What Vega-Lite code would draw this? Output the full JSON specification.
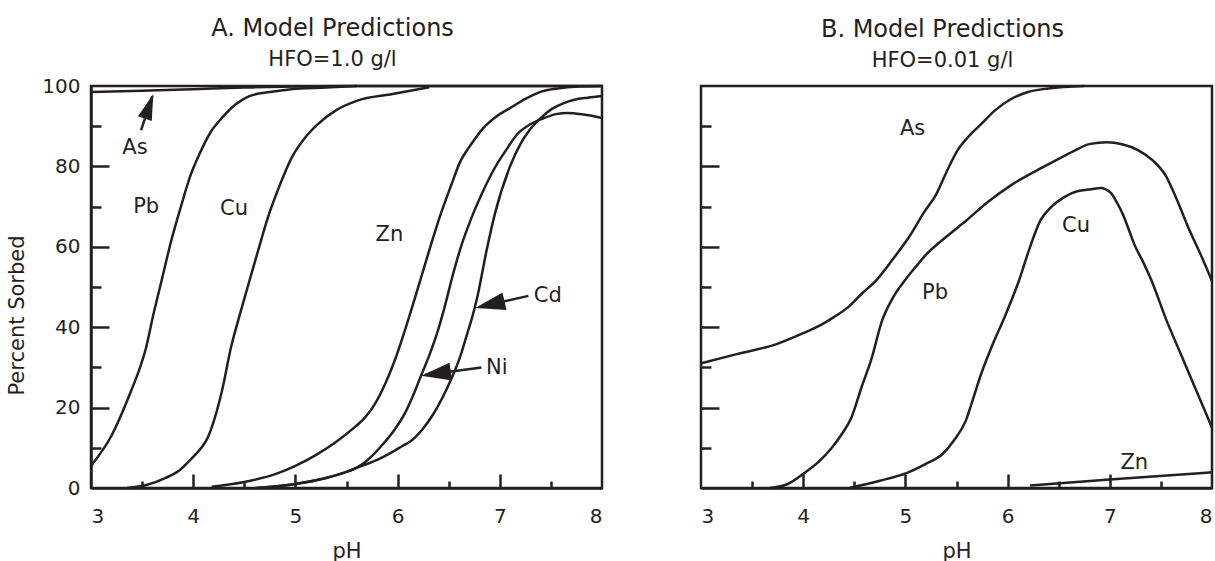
{
  "$schema": "https://vega.github.io/schema/vega-lite/v6.json",
  "padding": {"left": 5, "top": 15, "right": 0, "bottom": 0},
  "bounds": "flush",
  "spacing": 99,
  "config": {
    "font": "DejaVu Sans",
    "view": {"stroke": "#231f20", "strokeWidth": 2.5},
    "axis": {"grid": false, "labelFont": "DejaVu Sans", "labelFontSize": 20, "labelColor": "#231f20", "titleFont": "DejaVu Sans", "titleFontSize": 21, "titleFontWeight": "normal", "titleColor": "#231f20", "domainColor": "#231f20", "domainWidth": 2.5, "tickColor": "#231f20", "tickWidth": 2.5},
    "title": {"font": "DejaVu Sans", "fontSize": 24, "fontWeight": "normal", "color": "#231f20", "subtitleFont": "DejaVu Sans", "subtitleFontSize": 21, "subtitleColor": "#231f20", "subtitlePadding": 8, "anchor": "middle", "frame": "group"}
  },
  "datasets": {
    "curvesA": [
      {"metal": "As", "pH": 3.0, "pct": 98.5}, {"metal": "As", "pH": 3.5, "pct": 98.8}, {"metal": "As", "pH": 4.0, "pct": 99.2}, {"metal": "As", "pH": 4.5, "pct": 99.6}, {"metal": "As", "pH": 5.0, "pct": 99.9}, {"metal": "As", "pH": 5.5, "pct": 100}, {"metal": "As", "pH": 8.0, "pct": 100},
      {"metal": "Pb", "pH": 3.0, "pct": 5.5}, {"metal": "Pb", "pH": 3.2, "pct": 13}, {"metal": "Pb", "pH": 3.39, "pct": 24}, {"metal": "Pb", "pH": 3.48, "pct": 30}, {"metal": "Pb", "pH": 3.54, "pct": 35}, {"metal": "Pb", "pH": 3.6, "pct": 42}, {"metal": "Pb", "pH": 3.69, "pct": 51.5}, {"metal": "Pb", "pH": 3.78, "pct": 61}, {"metal": "Pb", "pH": 3.88, "pct": 70}, {"metal": "Pb", "pH": 3.97, "pct": 77.5}, {"metal": "Pb", "pH": 4.06, "pct": 83}, {"metal": "Pb", "pH": 4.17, "pct": 88.5}, {"metal": "Pb", "pH": 4.29, "pct": 92.3}, {"metal": "Pb", "pH": 4.42, "pct": 95.5}, {"metal": "Pb", "pH": 4.55, "pct": 97.5}, {"metal": "Pb", "pH": 4.75, "pct": 98.5}, {"metal": "Pb", "pH": 4.96, "pct": 99.2}, {"metal": "Pb", "pH": 5.3, "pct": 99.6}, {"metal": "Pb", "pH": 5.6, "pct": 100},
      {"metal": "Cu", "pH": 3.35, "pct": 0}, {"metal": "Cu", "pH": 3.55, "pct": 0.8}, {"metal": "Cu", "pH": 3.73, "pct": 2.5}, {"metal": "Cu", "pH": 3.87, "pct": 4.5}, {"metal": "Cu", "pH": 3.99, "pct": 7.5}, {"metal": "Cu", "pH": 4.08, "pct": 10}, {"metal": "Cu", "pH": 4.14, "pct": 12.4}, {"metal": "Cu", "pH": 4.2, "pct": 16.5}, {"metal": "Cu", "pH": 4.28, "pct": 24}, {"metal": "Cu", "pH": 4.37, "pct": 35}, {"metal": "Cu", "pH": 4.46, "pct": 43.5}, {"metal": "Cu", "pH": 4.55, "pct": 51.5}, {"metal": "Cu", "pH": 4.64, "pct": 59.5}, {"metal": "Cu", "pH": 4.74, "pct": 68}, {"metal": "Cu", "pH": 4.85, "pct": 75.5}, {"metal": "Cu", "pH": 4.96, "pct": 82}, {"metal": "Cu", "pH": 5.09, "pct": 87}, {"metal": "Cu", "pH": 5.22, "pct": 90.5}, {"metal": "Cu", "pH": 5.4, "pct": 94}, {"metal": "Cu", "pH": 5.6, "pct": 96.3}, {"metal": "Cu", "pH": 5.95, "pct": 98}, {"metal": "Cu", "pH": 6.31, "pct": 99.7},
      {"metal": "Zn", "pH": 4.18, "pct": 0.3}, {"metal": "Zn", "pH": 4.5, "pct": 1.5}, {"metal": "Zn", "pH": 4.81, "pct": 3.5}, {"metal": "Zn", "pH": 5.0, "pct": 5.5}, {"metal": "Zn", "pH": 5.22, "pct": 8.5}, {"metal": "Zn", "pH": 5.4, "pct": 11.5}, {"metal": "Zn", "pH": 5.56, "pct": 14.7}, {"metal": "Zn", "pH": 5.68, "pct": 17.5}, {"metal": "Zn", "pH": 5.78, "pct": 21}, {"metal": "Zn", "pH": 5.88, "pct": 26}, {"metal": "Zn", "pH": 5.97, "pct": 31.6}, {"metal": "Zn", "pH": 6.1, "pct": 41.5}, {"metal": "Zn", "pH": 6.22, "pct": 51.5}, {"metal": "Zn", "pH": 6.32, "pct": 60}, {"metal": "Zn", "pH": 6.42, "pct": 68}, {"metal": "Zn", "pH": 6.52, "pct": 75}, {"metal": "Zn", "pH": 6.61, "pct": 81}, {"metal": "Zn", "pH": 6.72, "pct": 85.5}, {"metal": "Zn", "pH": 6.84, "pct": 89.6}, {"metal": "Zn", "pH": 6.97, "pct": 92.5}, {"metal": "Zn", "pH": 7.1, "pct": 94.5}, {"metal": "Zn", "pH": 7.25, "pct": 96.8}, {"metal": "Zn", "pH": 7.43, "pct": 98.8}, {"metal": "Zn", "pH": 7.6, "pct": 99.5}, {"metal": "Zn", "pH": 7.73, "pct": 99.8}, {"metal": "Zn", "pH": 8.0, "pct": 100},
      {"metal": "Ni", "pH": 4.62, "pct": 0}, {"metal": "Ni", "pH": 5.0, "pct": 1}, {"metal": "Ni", "pH": 5.3, "pct": 2.5}, {"metal": "Ni", "pH": 5.5, "pct": 4}, {"metal": "Ni", "pH": 5.63, "pct": 5.5}, {"metal": "Ni", "pH": 5.75, "pct": 8}, {"metal": "Ni", "pH": 5.86, "pct": 11}, {"metal": "Ni", "pH": 5.97, "pct": 14.5}, {"metal": "Ni", "pH": 6.08, "pct": 19}, {"metal": "Ni", "pH": 6.16, "pct": 23.5}, {"metal": "Ni", "pH": 6.23, "pct": 28}, {"metal": "Ni", "pH": 6.31, "pct": 33}, {"metal": "Ni", "pH": 6.38, "pct": 38}, {"metal": "Ni", "pH": 6.46, "pct": 45}, {"metal": "Ni", "pH": 6.53, "pct": 52}, {"metal": "Ni", "pH": 6.62, "pct": 60}, {"metal": "Ni", "pH": 6.72, "pct": 67}, {"metal": "Ni", "pH": 6.83, "pct": 73.5}, {"metal": "Ni", "pH": 6.95, "pct": 79.6}, {"metal": "Ni", "pH": 7.06, "pct": 84}, {"metal": "Ni", "pH": 7.17, "pct": 88}, {"metal": "Ni", "pH": 7.3, "pct": 90.5}, {"metal": "Ni", "pH": 7.43, "pct": 92}, {"metal": "Ni", "pH": 7.55, "pct": 93}, {"metal": "Ni", "pH": 7.66, "pct": 93.3}, {"metal": "Ni", "pH": 7.8, "pct": 93}, {"metal": "Ni", "pH": 7.9, "pct": 92.6}, {"metal": "Ni", "pH": 8.0, "pct": 92},
      {"metal": "Cd", "pH": 4.62, "pct": 0}, {"metal": "Cd", "pH": 5.0, "pct": 1}, {"metal": "Cd", "pH": 5.3, "pct": 2.5}, {"metal": "Cd", "pH": 5.5, "pct": 4}, {"metal": "Cd", "pH": 5.65, "pct": 5.5}, {"metal": "Cd", "pH": 5.8, "pct": 7}, {"metal": "Cd", "pH": 5.95, "pct": 9}, {"metal": "Cd", "pH": 6.05, "pct": 10.5}, {"metal": "Cd", "pH": 6.12, "pct": 11.5}, {"metal": "Cd", "pH": 6.24, "pct": 14.5}, {"metal": "Cd", "pH": 6.35, "pct": 18.4}, {"metal": "Cd", "pH": 6.44, "pct": 22.5}, {"metal": "Cd", "pH": 6.53, "pct": 27.4}, {"metal": "Cd", "pH": 6.61, "pct": 32.5}, {"metal": "Cd", "pH": 6.68, "pct": 38.3}, {"metal": "Cd", "pH": 6.73, "pct": 42.5}, {"metal": "Cd", "pH": 6.78, "pct": 47.5}, {"metal": "Cd", "pH": 6.87, "pct": 59}, {"metal": "Cd", "pH": 6.95, "pct": 68}, {"metal": "Cd", "pH": 7.1, "pct": 80}, {"metal": "Cd", "pH": 7.2, "pct": 85.5}, {"metal": "Cd", "pH": 7.29, "pct": 89}, {"metal": "Cd", "pH": 7.4, "pct": 92}, {"metal": "Cd", "pH": 7.51, "pct": 94.3}, {"metal": "Cd", "pH": 7.62, "pct": 95.7}, {"metal": "Cd", "pH": 7.73, "pct": 96.6}, {"metal": "Cd", "pH": 7.86, "pct": 97.1}, {"metal": "Cd", "pH": 8.0, "pct": 97.5}
    ],
    "curvesB": [
      {"metal": "As", "pH": 3.0, "pct": 31}, {"metal": "As", "pH": 3.35, "pct": 33.3}, {"metal": "As", "pH": 3.74, "pct": 35.8}, {"metal": "As", "pH": 4.0, "pct": 38.5}, {"metal": "As", "pH": 4.17, "pct": 40.5}, {"metal": "As", "pH": 4.3, "pct": 42.5}, {"metal": "As", "pH": 4.44, "pct": 45}, {"metal": "As", "pH": 4.58, "pct": 48.5}, {"metal": "As", "pH": 4.71, "pct": 51.5}, {"metal": "As", "pH": 4.88, "pct": 57}, {"metal": "As", "pH": 5.05, "pct": 63}, {"metal": "As", "pH": 5.18, "pct": 68.5}, {"metal": "As", "pH": 5.3, "pct": 73}, {"metal": "As", "pH": 5.4, "pct": 78.5}, {"metal": "As", "pH": 5.51, "pct": 84}, {"metal": "As", "pH": 5.62, "pct": 87.5}, {"metal": "As", "pH": 5.74, "pct": 90.5}, {"metal": "As", "pH": 5.88, "pct": 94}, {"metal": "As", "pH": 6.03, "pct": 96.7}, {"metal": "As", "pH": 6.2, "pct": 98.5}, {"metal": "As", "pH": 6.4, "pct": 99.4}, {"metal": "As", "pH": 6.75, "pct": 100},
      {"metal": "Pb", "pH": 3.67, "pct": 0}, {"metal": "Pb", "pH": 3.85, "pct": 1}, {"metal": "Pb", "pH": 4.01, "pct": 3.7}, {"metal": "Pb", "pH": 4.15, "pct": 6.5}, {"metal": "Pb", "pH": 4.28, "pct": 10}, {"metal": "Pb", "pH": 4.38, "pct": 13.5}, {"metal": "Pb", "pH": 4.47, "pct": 17.4}, {"metal": "Pb", "pH": 4.57, "pct": 25}, {"metal": "Pb", "pH": 4.67, "pct": 32.3}, {"metal": "Pb", "pH": 4.77, "pct": 41.5}, {"metal": "Pb", "pH": 4.87, "pct": 47}, {"metal": "Pb", "pH": 4.99, "pct": 51.5}, {"metal": "Pb", "pH": 5.1, "pct": 55}, {"metal": "Pb", "pH": 5.2, "pct": 58}, {"metal": "Pb", "pH": 5.4, "pct": 62.5}, {"metal": "Pb", "pH": 5.59, "pct": 66.4}, {"metal": "Pb", "pH": 5.8, "pct": 71}, {"metal": "Pb", "pH": 6.05, "pct": 75.6}, {"metal": "Pb", "pH": 6.3, "pct": 79.2}, {"metal": "Pb", "pH": 6.51, "pct": 82}, {"metal": "Pb", "pH": 6.66, "pct": 84}, {"metal": "Pb", "pH": 6.81, "pct": 85.6}, {"metal": "Pb", "pH": 6.97, "pct": 86}, {"metal": "Pb", "pH": 7.12, "pct": 85.5}, {"metal": "Pb", "pH": 7.28, "pct": 84}, {"metal": "Pb", "pH": 7.42, "pct": 81.5}, {"metal": "Pb", "pH": 7.55, "pct": 77.6}, {"metal": "Pb", "pH": 7.66, "pct": 71.5}, {"metal": "Pb", "pH": 7.77, "pct": 64.7}, {"metal": "Pb", "pH": 7.89, "pct": 58}, {"metal": "Pb", "pH": 8.0, "pct": 51.5},
      {"metal": "Cu", "pH": 4.45, "pct": 0}, {"metal": "Cu", "pH": 4.75, "pct": 1.8}, {"metal": "Cu", "pH": 5.01, "pct": 3.7}, {"metal": "Cu", "pH": 5.2, "pct": 6}, {"metal": "Cu", "pH": 5.36, "pct": 8.4}, {"metal": "Cu", "pH": 5.48, "pct": 12}, {"metal": "Cu", "pH": 5.59, "pct": 16.7}, {"metal": "Cu", "pH": 5.66, "pct": 22}, {"metal": "Cu", "pH": 5.74, "pct": 28.3}, {"metal": "Cu", "pH": 5.85, "pct": 35.5}, {"metal": "Cu", "pH": 5.97, "pct": 42.5}, {"metal": "Cu", "pH": 6.11, "pct": 51.5}, {"metal": "Cu", "pH": 6.22, "pct": 60}, {"metal": "Cu", "pH": 6.32, "pct": 66.5}, {"metal": "Cu", "pH": 6.43, "pct": 70}, {"metal": "Cu", "pH": 6.55, "pct": 72.3}, {"metal": "Cu", "pH": 6.68, "pct": 73.8}, {"metal": "Cu", "pH": 6.82, "pct": 74.3}, {"metal": "Cu", "pH": 6.91, "pct": 74.6}, {"metal": "Cu", "pH": 6.96, "pct": 74.3}, {"metal": "Cu", "pH": 7.01, "pct": 73.4}, {"metal": "Cu", "pH": 7.07, "pct": 71}, {"metal": "Cu", "pH": 7.13, "pct": 68}, {"metal": "Cu", "pH": 7.19, "pct": 64}, {"metal": "Cu", "pH": 7.24, "pct": 60.6}, {"metal": "Cu", "pH": 7.33, "pct": 56}, {"metal": "Cu", "pH": 7.41, "pct": 51.5}, {"metal": "Cu", "pH": 7.55, "pct": 42}, {"metal": "Cu", "pH": 7.7, "pct": 33}, {"metal": "Cu", "pH": 7.85, "pct": 24}, {"metal": "Cu", "pH": 8.0, "pct": 15},
      {"metal": "Zn", "pH": 6.22, "pct": 0.6}, {"metal": "Zn", "pH": 7.0, "pct": 2.1}, {"metal": "Zn", "pH": 8.0, "pct": 3.9}
    ],
    "labelsA": [
      {"label": "As", "pH": 3.43, "pct": 84.6}, {"label": "Pb", "pH": 3.54, "pct": 70}, {"label": "Cu", "pH": 4.4, "pct": 69.4}, {"label": "Zn", "pH": 5.92, "pct": 63}, {"label": "Cd", "pH": 7.47, "pct": 47.8}, {"label": "Ni", "pH": 6.97, "pct": 29.9}
    ],
    "labelsB": [
      {"label": "As", "pH": 5.07, "pct": 89.3}, {"label": "Cu", "pH": 6.67, "pct": 65.2}, {"label": "Pb", "pH": 5.29, "pct": 48.5}, {"label": "Zn", "pH": 7.24, "pct": 6.2}
    ],
    "arrowsA": [
      {"id": "As", "pH": 3.49, "pct": 89}, {"id": "As", "pH": 3.6, "pct": 97.5},
      {"id": "Cd", "pH": 7.28, "pct": 47.8}, {"id": "Cd", "pH": 6.8, "pct": 45},
      {"id": "Ni", "pH": 6.82, "pct": 30}, {"id": "Ni", "pH": 6.27, "pct": 28.1}
    ],
    "headsA": [
      {"id": "As", "pH": 3.61, "pct": 98}, {"id": "Cd", "pH": 6.76, "pct": 44.8}, {"id": "Ni", "pH": 6.23, "pct": 27.9}
    ]
  },
  "hconcat": [
    {
      "width": 511, "height": 402,
      "title": {"text": "A. Model Predictions", "subtitle": "HFO=1.0 g/l", "offset": 6, "dx": -14},
      "resolve": {"axis": {"x": "independent", "y": "independent"}},
      "layer": [
        {
          "data": {"name": "curvesA"},
          "mark": {"type": "line", "interpolate": "monotone", "strokeWidth": 2.5, "color": "#231f20"},
          "encoding": {
            "x": {"field": "pH", "type": "quantitative", "scale": {"domain": [3, 8], "nice": false, "zero": false},
                  "axis": {"orient": "bottom", "values": [3, 4, 5, 6, 7, 8], "ticks": false, "labelPadding": 18, "title": "pH", "titlePadding": 14}},
            "y": {"field": "pct", "type": "quantitative", "scale": {"domain": [0, 100], "nice": false},
                  "axis": {"orient": "left", "values": [0, 20, 40, 60, 80, 100], "ticks": false, "labelPadding": 11, "title": "Percent Sorbed", "titlePadding": 14, "titleY": 229}},
            "detail": {"field": "metal"}
          }
        },
        {
          "data": {"name": "labelsA"},
          "mark": {"type": "text", "fontSize": 21, "font": "DejaVu Sans", "color": "#231f20", "align": "center", "baseline": "middle"},
          "encoding": {
            "x": {"field": "pH", "type": "quantitative", "axis": {"orient": "bottom", "values": [4, 5, 6, 7], "labels": false, "domain": false, "title": null, "tickSize": -14}},
            "y": {"field": "pct", "type": "quantitative", "axis": {"orient": "left", "values": [20, 40, 60, 80], "labels": false, "domain": false, "title": null, "tickSize": -18}},
            "text": {"field": "label"}
          }
        },
        {
          "data": {"name": "arrowsA"},
          "mark": {"type": "line", "strokeWidth": 2.5, "color": "#231f20"},
          "encoding": {
            "x": {"field": "pH", "type": "quantitative", "axis": {"orient": "bottom", "values": [3.5, 4.5, 5.5, 6.5, 7.5], "labels": false, "domain": false, "title": null, "tickSize": -7}},
            "y": {"field": "pct", "type": "quantitative", "axis": {"orient": "left", "values": [10, 30, 50, 70, 90], "labels": false, "domain": false, "title": null, "tickSize": -10}},
            "detail": {"field": "id"}
          }
        },
        {
          "data": {"name": "headsA"},
          "transform": [{"filter": "datum.id === 'As'"}],
          "mark": {"type": "point", "shape": "M0,0L0.28,1L-0.28,1Z", "filled": true, "opacity": 1, "color": "#231f20", "size": 2704, "angle": 19},
          "encoding": {
            "x": {"field": "pH", "type": "quantitative", "axis": null},
            "y": {"field": "pct", "type": "quantitative", "axis": null}
          }
        },
        {
          "data": {"name": "headsA"},
          "transform": [{"filter": "datum.id === 'Cd'"}],
          "mark": {"type": "point", "shape": "M0,0L0.3,1L-0.3,1Z", "filled": true, "opacity": 1, "color": "#231f20", "size": 3600, "angle": 257},
          "encoding": {
            "x": {"field": "pH", "type": "quantitative", "axis": null},
            "y": {"field": "pct", "type": "quantitative", "axis": null}
          }
        },
        {
          "data": {"name": "headsA"},
          "transform": [{"filter": "datum.id === 'Ni'"}],
          "mark": {"type": "point", "shape": "M0,0L0.3,1L-0.3,1Z", "filled": true, "opacity": 1, "color": "#231f20", "size": 3600, "angle": 262},
          "encoding": {
            "x": {"field": "pH", "type": "quantitative", "axis": null},
            "y": {"field": "pct", "type": "quantitative", "axis": null}
          }
        }
      ]
    },
    {
      "width": 511, "height": 402,
      "title": {"text": "B. Model Predictions", "subtitle": "HFO=0.01 g/l", "offset": 10, "dx": -14},
      "resolve": {"axis": {"x": "independent", "y": "independent"}},
      "layer": [
        {
          "data": {"name": "curvesB"},
          "mark": {"type": "line", "interpolate": "monotone", "strokeWidth": 2.5, "color": "#231f20"},
          "encoding": {
            "x": {"field": "pH", "type": "quantitative", "scale": {"domain": [3, 8], "nice": false, "zero": false},
                  "axis": {"orient": "bottom", "values": [3, 4, 5, 6, 7, 8], "ticks": false, "labelPadding": 18, "title": "pH", "titlePadding": 14}},
            "y": {"field": "pct", "type": "quantitative", "scale": {"domain": [0, 100], "nice": false},
                  "axis": {"orient": "left", "values": [20, 40, 60, 80], "labels": false, "domain": false, "title": null, "tickSize": -18}},
            "detail": {"field": "metal"}
          }
        },
        {
          "data": {"name": "labelsB"},
          "transform": [{"filter": "datum.label === 'As' || datum.label === 'Pb'"}],
          "mark": {"type": "text", "fontSize": 21, "font": "DejaVu Sans", "color": "#231f20", "align": "center", "baseline": "middle"},
          "encoding": {
            "x": {"field": "pH", "type": "quantitative", "axis": {"orient": "bottom", "values": [4, 5, 6, 7], "labels": false, "domain": false, "title": null, "tickSize": -14}},
            "y": {"field": "pct", "type": "quantitative", "axis": {"orient": "left", "values": [10, 30, 50, 70, 90], "labels": false, "domain": false, "title": null, "tickSize": -10}},
            "text": {"field": "label"}
          }
        },
        {
          "data": {"name": "labelsB"},
          "transform": [{"filter": "datum.label === 'Cu' || datum.label === 'Zn'"}],
          "mark": {"type": "text", "fontSize": 21, "font": "DejaVu Sans", "color": "#231f20", "align": "center", "baseline": "middle"},
          "encoding": {
            "x": {"field": "pH", "type": "quantitative", "axis": {"orient": "bottom", "values": [3.5, 4.5, 5.5, 6.5, 7.5], "labels": false, "domain": false, "title": null, "tickSize": -7}},
            "y": {"field": "pct", "type": "quantitative", "axis": null},
            "text": {"field": "label"}
          }
        }
      ]
    }
  ]
}
